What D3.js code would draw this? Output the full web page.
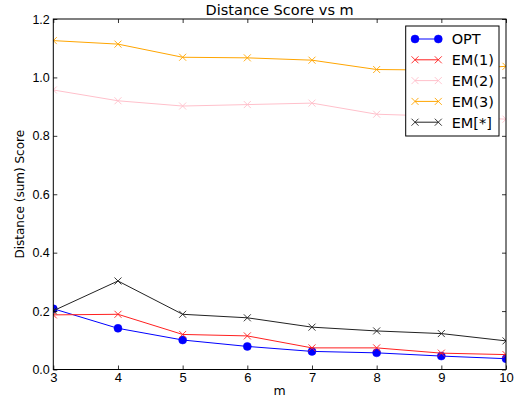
<!DOCTYPE html>
<html>
<head>
<meta charset="utf-8">
<script src="https://cdn.jsdelivr.net/npm/d3@7"></script>
<style>
  body { margin: 0; background: #fff; }
  svg { font-family: "DejaVu Sans", sans-serif; }
</style>
</head>
<body>
<div id="chart"></div>
<script>
var mValues = [3, 4, 5, 6, 7, 8, 9, 10];
var opt   = [0.208, 0.141, 0.101, 0.079, 0.062, 0.057, 0.046, 0.037];
var em1   = [0.187, 0.189, 0.120, 0.115, 0.074, 0.074, 0.056, 0.051];
var em2   = [0.957, 0.920, 0.902, 0.907, 0.912, 0.874, 0.867, 0.857];
var em3   = [1.126, 1.114, 1.069, 1.067, 1.059, 1.027, 1.025, 1.038];
var emAll = [0.201, 0.303, 0.189, 0.177, 0.145, 0.132, 0.123, 0.098];
var yTicks = [0.0, 0.2, 0.4, 0.6, 0.8, 1.0, 1.2];

var series = [
  { name: "OPT",   values: opt,   color: "#0000ff", marker: "dot" },
  { name: "EM(1)", values: em1,   color: "#ff2020", marker: "x" },
  { name: "EM(2)", values: em2,   color: "#ffc0cb", marker: "x" },
  { name: "EM(3)", values: em3,   color: "#ffa500", marker: "x" },
  { name: "EM[*]", values: emAll, color: "#222222", marker: "x" }
];

var w = 516, h = 400,
    margin = { top: 19, right: 10, bottom: 30.5, left: 53.3 };

var svg = d3.select("#chart").append("svg")
      .attr("width", w)
      .attr("height", h);

var x = d3.scaleLinear().domain([3, 10]).range([margin.left, w - margin.right]);
var y = d3.scaleLinear().domain([0, 1.2]).range([h - margin.bottom, margin.top]);

// clip so markers at the edges are cut like the original
svg.append("clipPath").attr("id", "clip")
  .append("rect")
  .attr("x", x(3)).attr("y", y(1.2))
  .attr("width", x(10) - x(3)).attr("height", y(0) - y(1.2));

var lines = svg.append("g").attr("clip-path", "url(#clip)");

function drawMarker(g, s, cx, cy, size) {
  if (s.marker === "dot") {
    g.append("circle").attr("cx", cx).attr("cy", cy).attr("r", size)
      .attr("fill", s.color).attr("stroke", s.color).attr("stroke-width", 0.5);
  } else {
    g.append("path")
      .attr("d", "M" + (cx - size) + "," + (cy - size) + "L" + (cx + size) + "," + (cy + size) +
                 "M" + (cx - size) + "," + (cy + size) + "L" + (cx + size) + "," + (cy - size))
      .attr("stroke", s.color).attr("stroke-width", 0.9).attr("fill", "none");
  }
}

var line = d3.line().x((d, i) => x(mValues[i])).y((d) => y(d));

series.forEach((s) => {
  lines.append("path")
    .datum(s.values)
    .attr("d", line)
    .attr("fill", "none")
    .attr("stroke", s.color)
    .attr("stroke-width", 1);
  s.values.forEach((v, i) => drawMarker(lines, s, x(mValues[i]), y(v), s.marker === "dot" ? 4 : 3.5));
});

// axes: ticks inside on all four sides
var tickLen = 4;
var axisB = d3.axisBottom(x).tickValues(mValues).tickSize(-tickLen).tickPadding(3).tickFormat(d3.format("d"));
var axisT = d3.axisTop(x).tickValues(mValues).tickSize(-tickLen).tickFormat("");
var axisL = d3.axisLeft(y).tickValues(yTicks).tickSize(-tickLen).tickPadding(3.5).tickFormat(d3.format(".1f"));
var axisR = d3.axisRight(y).tickValues(yTicks).tickSize(-tickLen).tickFormat("");

function style(size) {
  return (g) => {
    g.select(".domain").remove();
    g.selectAll("line").attr("stroke", "#000").attr("stroke-width", 0.8);
    g.selectAll("text").attr("fill", "#000").style("font-size", size);
  };
}

svg.append("g").attr("transform", "translate(0," + y(0) + ")").call(axisB).call(style("13px"));
svg.append("g").attr("transform", "translate(0," + y(1.2) + ")").call(axisT).call(style("13px"));
svg.append("g").attr("transform", "translate(" + x(3) + ",0)").call(axisL).call(style("12.5px"));
svg.append("g").attr("transform", "translate(" + x(10) + ",0)").call(axisR).call(style("12.5px"));

svg.append("rect")
  .attr("x", x(3)).attr("y", y(1.2))
  .attr("width", x(10) - x(3)).attr("height", y(0) - y(1.2))
  .attr("fill", "none").attr("stroke", "#000").attr("stroke-width", 1);

// title and labels
svg.append("text")
  .attr("x", (x(3) + x(10)) / 2).attr("y", 15)
  .attr("text-anchor", "middle").style("font-size", "14.5px")
  .text("Distance Score vs m");

svg.append("text")
  .attr("x", (x(3) + x(10)) / 2).attr("y", 395)
  .attr("text-anchor", "middle").style("font-size", "12.5px")
  .text("m");

svg.append("text")
  .attr("transform", "translate(24," + ((y(0) + y(1.2)) / 2) + ") rotate(-90)")
  .attr("text-anchor", "middle").style("font-size", "12px")
  .text("Distance (sum) Score");

// legend
var lx = 405.7, ly = 26, lw = 93.3, lh = 110;
var legend = svg.append("g");
legend.append("rect")
  .attr("x", lx).attr("y", ly).attr("width", lw).attr("height", lh)
  .attr("fill", "#fff").attr("stroke", "#000").attr("stroke-width", 1);

series.forEach((s, i) => {
  var cy = ly + 13 + i * 20.8;
  legend.append("line")
    .attr("x1", lx + 9.3).attr("x2", lx + 32.6).attr("y1", cy).attr("y2", cy)
    .attr("stroke", s.color).attr("stroke-width", 1);
  drawMarker(legend, s, lx + 9.3, cy, s.marker === "dot" ? 4 : 3.5);
  drawMarker(legend, s, lx + 32.6, cy, s.marker === "dot" ? 4 : 3.5);
  legend.append("text")
    .attr("x", lx + 46).attr("y", cy + 5.3)
    .style("font-size", "14.5px")
    .text(s.name);
});
</script>
</body>
</html>
